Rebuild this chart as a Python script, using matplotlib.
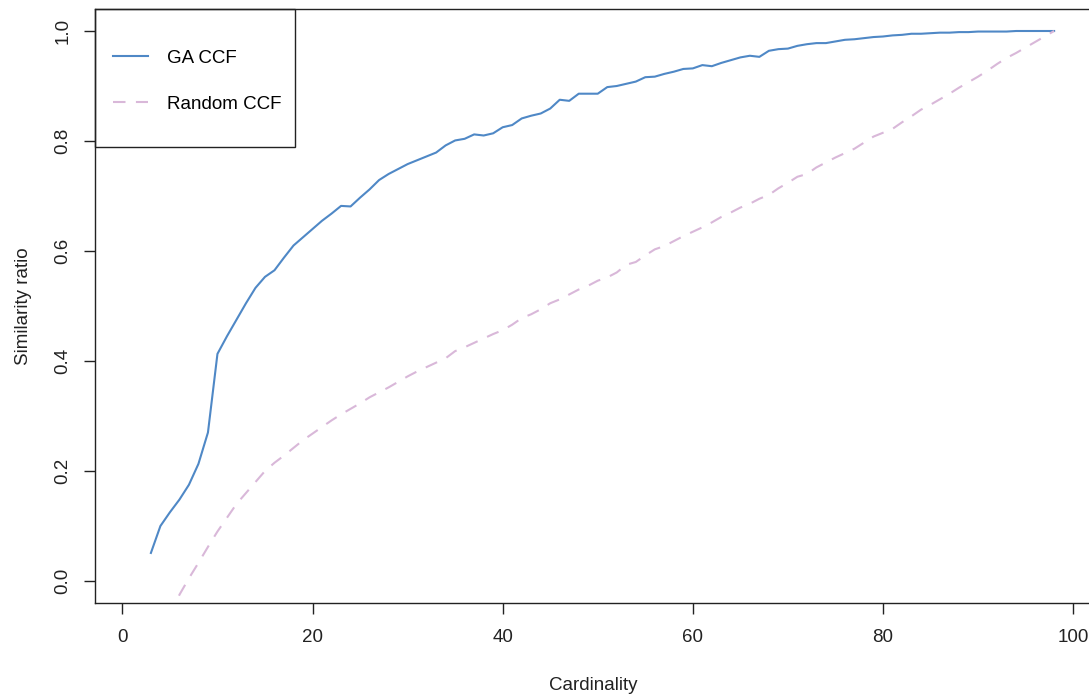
import numpy as np
import matplotlib
matplotlib.use('Agg')
import matplotlib.pyplot as plt
from matplotlib.patches import Rectangle

# Data
ga_x = list(range(3, 99))
ga_y = [0.051, 0.100, 0.125, 0.148, 0.175, 0.213, 0.270, 0.413, 0.445, 0.475,
        0.505, 0.533, 0.553, 0.565, 0.588, 0.610, 0.625, 0.640, 0.655, 0.668,
        0.682, 0.681, 0.697, 0.712, 0.729, 0.740, 0.749, 0.758, 0.765, 0.772,
        0.779, 0.792, 0.801, 0.804, 0.812, 0.810, 0.814, 0.825, 0.829, 0.841,
        0.846, 0.850, 0.859, 0.875, 0.873, 0.886, 0.886, 0.886, 0.898, 0.900,
        0.904, 0.908, 0.916, 0.917, 0.922, 0.926, 0.931, 0.932, 0.938, 0.936,
        0.942, 0.947, 0.952, 0.955, 0.953, 0.964, 0.967, 0.968, 0.973, 0.976,
        0.978, 0.978, 0.981, 0.984, 0.985, 0.987, 0.989, 0.990, 0.992, 0.993,
        0.995, 0.995, 0.996, 0.997, 0.997, 0.998, 0.998, 0.999, 0.999, 0.999,
        0.999, 1.000, 1.000, 1.000, 1.000, 1.000]

rand_x = list(range(5, 99))
rand_y = [-0.065, -0.025, 0.005, 0.033, 0.062, 0.090, 0.115, 0.140, 0.160, 0.180,
          0.200, 0.215, 0.228, 0.242, 0.256, 0.268, 0.280, 0.292, 0.303, 0.313,
          0.323, 0.334, 0.343, 0.352, 0.362, 0.372, 0.381, 0.389, 0.397, 0.405,
          0.418, 0.425, 0.433, 0.441, 0.449, 0.456, 0.466, 0.478, 0.485, 0.494,
          0.505, 0.512, 0.521, 0.530, 0.537, 0.546, 0.552, 0.561, 0.575, 0.580,
          0.592, 0.603, 0.609, 0.618, 0.627, 0.635, 0.643, 0.652, 0.662, 0.670,
          0.679, 0.686, 0.695, 0.702, 0.714, 0.724, 0.735, 0.740, 0.752, 0.761,
          0.770, 0.778, 0.786, 0.797, 0.808, 0.815, 0.822, 0.834, 0.845, 0.857,
          0.866, 0.876, 0.886, 0.897, 0.907, 0.917, 0.928, 0.940, 0.951, 0.960,
          0.970, 0.980, 0.990, 1.000]

x_ticks = [0, 20, 40, 60, 80, 100]
y_ticks = [0.0, 0.2, 0.4, 0.6, 0.8, 1.0]

GA_COLOR = '#4f88c6'
RAND_COLOR = '#d9b8d9'
FS = 13.5

plt.rcParams['font.family'] = ['Liberation Sans', 'DejaVu Sans']

fig = plt.figure(figsize=(10.89, 6.95), dpi=100)
ax = fig.add_axes([95 / 1089, 92 / 695, 996 / 1089, 594 / 695])

ax.plot(ga_x, ga_y, color=GA_COLOR, lw=1.5, label='GA CCF')
ax.plot(rand_x, rand_y, color=RAND_COLOR, lw=1.5, dashes=(6, 5), label='Random CCF')

ax.set_xlim(-2.88, 101.88)
ax.set_ylim(-0.04, 1.04)
ax.set_xticks(x_ticks)
ax.set_yticks(y_ticks)
ax.set_xticklabels([str(v) for v in x_ticks])
ax.set_yticklabels(['%.1f' % v for v in y_ticks], rotation=90, va='center')
ax.tick_params(axis='both', length=8, width=1, labelsize=FS, colors='#222222')
ax.tick_params(axis='x', pad=11)
ax.tick_params(axis='y', pad=9)
for s in ax.spines.values():
    s.set_color('#222222')
    s.set_linewidth(1)

ax.set_xlabel('Cardinality', fontsize=FS, labelpad=22, color='#222222')
ax.set_ylabel('Similarity ratio', fontsize=FS, labelpad=16, color='#222222')

# legend box like R's legend()
ax.add_patch(Rectangle((0, 0.7677), 0.2008, 0.2323, transform=ax.transAxes,
                       fill=False, edgecolor='#222222', lw=1, zorder=5, clip_on=False))
ax.legend(loc='upper left', bbox_to_anchor=(0.0181, 0.932), frameon=False,
          borderpad=0, borderaxespad=0, fontsize=FS, handlelength=1.87,
          handletextpad=1.0, labelspacing=1.56)

fig.savefig('out.png', dpi=100)
